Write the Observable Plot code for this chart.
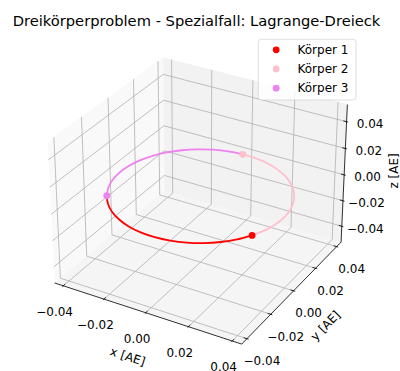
<!DOCTYPE html>
<html>
<head>
<meta charset="utf-8">
<script src="https://cdn.jsdelivr.net/npm/d3@7"></script>
<script src="https://cdn.jsdelivr.net/npm/@observablehq/plot@0.6"></script>
<style>
  html, body { margin: 0; padding: 0; background: #fff; }
  #chart svg { display: block; }
</style>
</head>
<body>
<div id="chart"></div>
<script>
// ---- Daten -------------------------------------------------------------
const titel = "Dreikörperproblem - Spezialfall: Lagrange-Dreieck";
const koerperNamen = ["Körper 1", "Körper 2", "Körper 3"];
const koerperFarben = ["red", "pink", "violet"];

// Bahnspuren (x, y) in AE; alle drei Körper bewegen sich in der Ebene z = 0.
// Der letzte Punkt jeder Spur ist die aktuelle Position des Körpers.
const bahn1 = [
  [-0.03282, -0.02051], [-0.02876, -0.02589], [-0.02383, -0.03050], [-0.01817, -0.03417],
  [-0.01196, -0.03681], [-0.00539, -0.03832], [0.00135, -0.03868], [0.00805, -0.03785],
  [0.01450, -0.03588], [0.02051, -0.03282], [0.02589, -0.02876], [0.03050, -0.02383],
  [0.03417, -0.01817]
];
const bahn2 = [
  [0.03417, -0.01817], [0.03681, -0.01196], [0.03832, -0.00539], [0.03868, 0.00135],
  [0.03785, 0.00805], [0.03588, 0.01450], [0.03282, 0.02051], [0.02876, 0.02589],
  [0.02383, 0.03050], [0.01817, 0.03417], [0.01196, 0.03681], [0.00539, 0.03832],
  [-0.00135, 0.03868]
];
const bahn3 = [
  [-0.00135, 0.03868], [-0.00805, 0.03785], [-0.01450, 0.03588], [-0.02051, 0.03282],
  [-0.02589, 0.02876], [-0.03050, 0.02383], [-0.03417, 0.01817], [-0.03681, 0.01196],
  [-0.03832, 0.00539], [-0.03868, -0.00135], [-0.03785, -0.00805], [-0.03588, -0.01450],
  [-0.03282, -0.02051]
];
const bahnZ = 0;

// Achsen
const tickWerte = [-0.04, -0.02, 0, 0.02, 0.04];
const tickLabels = ["\u22120.04", "\u22120.02", "0.00", "0.02", "0.04"];
const achsenTitel = ["x [AE]", "y [AE]", "z [AE]"];
const xLim = [-0.0425, 0.0425];
const yLim = [-0.0425, 0.0425];
const zLim = [-0.0505, 0.0505];

// ---- 3D-Projektion (elev 30°, azim -60°, Perspektive) ------------------
const W = 400, H = 371;
const box = [8 / 7, 8 / 7, 6 / 7];
const elev = 30 * Math.PI / 180, azim = -60 * Math.PI / 180, dist = 10;
const R = box.map(b => b / 2);
const wv = [Math.cos(elev) * Math.cos(azim), Math.cos(elev) * Math.sin(azim), Math.sin(elev)];
const E = R.map((r, i) => r + dist * wv[i]);
const cross = (a, b) => [a[1] * b[2] - a[2] * b[1], a[2] * b[0] - a[0] * b[2], a[0] * b[1] - a[1] * b[0]];
const dot3 = (a, b) => a[0] * b[0] + a[1] * b[1] + a[2] * b[2];
const norm = a => { const l = Math.hypot(...a); return a.map(c => c / l); };
const uv = norm(cross([0, 0, 1], wv));
const vv = cross(wv, uv);
const lims = [xLim, yLim, zLim];

function proj(p) {
  const b = p.map((c, i) => (c - lims[i][0]) / (lims[i][1] - lims[i][0]) * box[i]);
  const d = b.map((c, i) => c - E[i]);
  const s = -dot3(wv, d);
  return [dot3(uv, d) / s, dot3(vv, d) / s];
}

// Bildschirmabbildung der Projektionsebene
const k = 1800, cx = 200, cy = 193.6;
const fromPx = (px, py) => [(px - cx) / k, (cy - py) / k];
const shift = (P, dx, dy) => [P[0] + dx / k, P[1] - dy / k];

// Rahmen mit 1/48 Rand
const pad = l => { const d = (l[1] - l[0]) / 48; return [l[0] - d, l[1] + d]; };
const [x0, x1] = pad(xLim), [y0, y1] = pad(yLim), [z0, z1] = pad(zLim);

// Hintergrundflächen
const flaechen = [
  {farbe: "rgb(249,249,249)", ecken: [[x0, y0, z0], [x0, y1, z0], [x0, y1, z1], [x0, y0, z1]]},
  {farbe: "rgb(242,242,242)", ecken: [[x0, y1, z0], [x1, y1, z0], [x1, y1, z1], [x0, y1, z1]]},
  {farbe: "rgb(245,245,245)", ecken: [[x0, y0, z0], [x1, y0, z0], [x1, y1, z0], [x0, y1, z0]]}
];

// Gitterlinien
const gitter = [];
tickWerte.forEach((t, i) => {
  [[t, y0, z0], [t, y1, z0], [t, y1, z1]].forEach(p => gitter.push({g: "x" + i, P: proj(p)}));
  [[x0, t, z1], [x0, t, z0], [x1, t, z0]].forEach(p => gitter.push({g: "y" + i, P: proj(p)}));
  [[x1, y1, t], [x0, y1, t], [x0, y0, t]].forEach(p => gitter.push({g: "z" + i, P: proj(p)}));
});

// Achsenlinien
const achsen = [
  {a: proj([x0, y0, z0]), b: proj([x1, y0, z0])},
  {a: proj([x1, y0, z0]), b: proj([x1, y1, z0])},
  {a: proj([x1, y1, z0]), b: proj([x1, y1, z1])}
];

// Tickstriche
const dX = (x1 - x0) / 12, dY = (y1 - y0) / 12;
const striche = [];
tickWerte.forEach(t => {
  striche.push({a: proj([t, y0 - 0.1 * dY, z0]), b: proj([t, y0 + 0.2 * dY, z0])});
  striche.push({a: proj([x1 + 0.1 * dX, t, z0]), b: proj([x1 - 0.2 * dX, t, z0])});
  striche.push({a: proj([x1 + 0.1 * dX, y1, t]), b: proj([x1 - 0.2 * dX, y1, t])});
});

// Ticklabels
const beschriftung = [];
tickWerte.forEach((t, i) => {
  beschriftung.push({P: shift(proj([t, y0, z0]), -8.6, 26.4), s: tickLabels[i]});
  beschriftung.push({P: shift(proj([x1, t, z0]), 15, 22.5), s: tickLabels[i]});
  beschriftung.push({P: shift(proj([x1, y1, t]), 23.5, 2.6), s: tickLabels[i]});
});

// Achsentitel, gedreht entlang der Achse
const winkel = (a, b) => Math.atan2(-(b[1] - a[1]), b[0] - a[0]) * 180 / Math.PI;
const titelPos = [
  {P: shift(proj([0, y0, z0]), -18, 44), s: achsenTitel[0], r: winkel(proj([x0, y0, z0]), proj([x1, y0, z0]))},
  {P: shift(proj([x1, 0, z0]), 32, 35), s: achsenTitel[1], r: winkel(proj([x1, y0, z0]), proj([x1, y1, z0]))},
  {P: shift(proj([x1, y1, 0]), 50, -4), s: achsenTitel[2], r: -90}
];

// Bahnen
const bahnen = [bahn1, bahn2, bahn3].map((b, i) => ({
  farbe: koerperFarben[i],
  punkte: b.map(([x, y]) => proj([x, y, bahnZ]))
}));

// Legende
const legBox = {a: fromPx(258.3, 39.3), b: fromPx(356, 100)};
const legEintraege = koerperNamen.map((n, i) => ({
  n, farbe: koerperFarben[i],
  m: fromPx(275.7, 49.3 + 19.2 * i), t: fromPx(297, 49.3 + 19.2 * i)
}));

const marks = [];
flaechen.forEach(f => marks.push(Plot.line(f.ecken.map(proj), {
  x: d => d[0], y: d => d[1], fill: f.farbe, stroke: f.farbe, strokeWidth: 1
})));
marks.push(Plot.line(gitter, {
  x: d => d.P[0], y: d => d.P[1], z: "g", stroke: "#b0b0b0", strokeWidth: 0.8
}));
marks.push(Plot.link(achsen, {
  x1: d => d.a[0], y1: d => d.a[1], x2: d => d.b[0], y2: d => d.b[1],
  stroke: "black", strokeWidth: 0.8
}));
marks.push(Plot.link(striche, {
  x1: d => d.a[0], y1: d => d.a[1], x2: d => d.b[0], y2: d => d.b[1],
  stroke: "black", strokeWidth: 0.8
}));
marks.push(Plot.text(beschriftung, {
  x: d => d.P[0], y: d => d.P[1], text: "s", fill: "black", fontSize: 12
}));
marks.push(Plot.text(titelPos, {
  x: d => d.P[0], y: d => d.P[1], text: "s", rotate: "r", fill: "black", fontSize: 12
}));
bahnen.forEach(b => marks.push(Plot.line(b.punkte, {
  x: d => d[0], y: d => d[1], stroke: b.farbe, strokeWidth: 1.8, curve: "catmull-rom"
})));
marks.push(Plot.dot(bahnen, {
  x: d => d.punkte[d.punkte.length - 1][0], y: d => d.punkte[d.punkte.length - 1][1],
  fill: "farbe", r: 3.4
}));
// Titel
marks.push(Plot.text([titel], {
  x: () => fromPx(196, 21)[0], y: () => fromPx(196, 21)[1], text: d => d,
  fill: "black", fontSize: 14.7
}));
// Legende
marks.push(Plot.rect([legBox], {
  x1: d => d.a[0], y1: d => d.a[1], x2: d => d.b[0], y2: d => d.b[1],
  rx: 3, fill: "white", fillOpacity: 0.8, stroke: "#cccccc", strokeOpacity: 0.8, strokeWidth: 0.8
}));
marks.push(Plot.dot(legEintraege, {
  x: d => d.m[0], y: d => d.m[1], fill: "farbe", r: 3.4
}));
marks.push(Plot.text(legEintraege, {
  x: d => d.t[0], y: d => d.t[1], text: "n", textAnchor: "start", fill: "black", fontSize: 12
}));

const chart = Plot.plot({
  width: W, height: H,
  marginTop: 0, marginRight: 0, marginBottom: 0, marginLeft: 0,
  x: {domain: [(0 - cx) / k, (W - cx) / k], range: [0, W], axis: null},
  y: {domain: [(cy - H) / k, cy / k], range: [H, 0], axis: null},
  color: {type: "identity"},
  style: {fontFamily: "'DejaVu Sans', sans-serif", fontSize: "12px", background: "white", overflow: "visible"},
  marks
});
document.getElementById("chart").append(chart);
</script>
</body>
</html>
